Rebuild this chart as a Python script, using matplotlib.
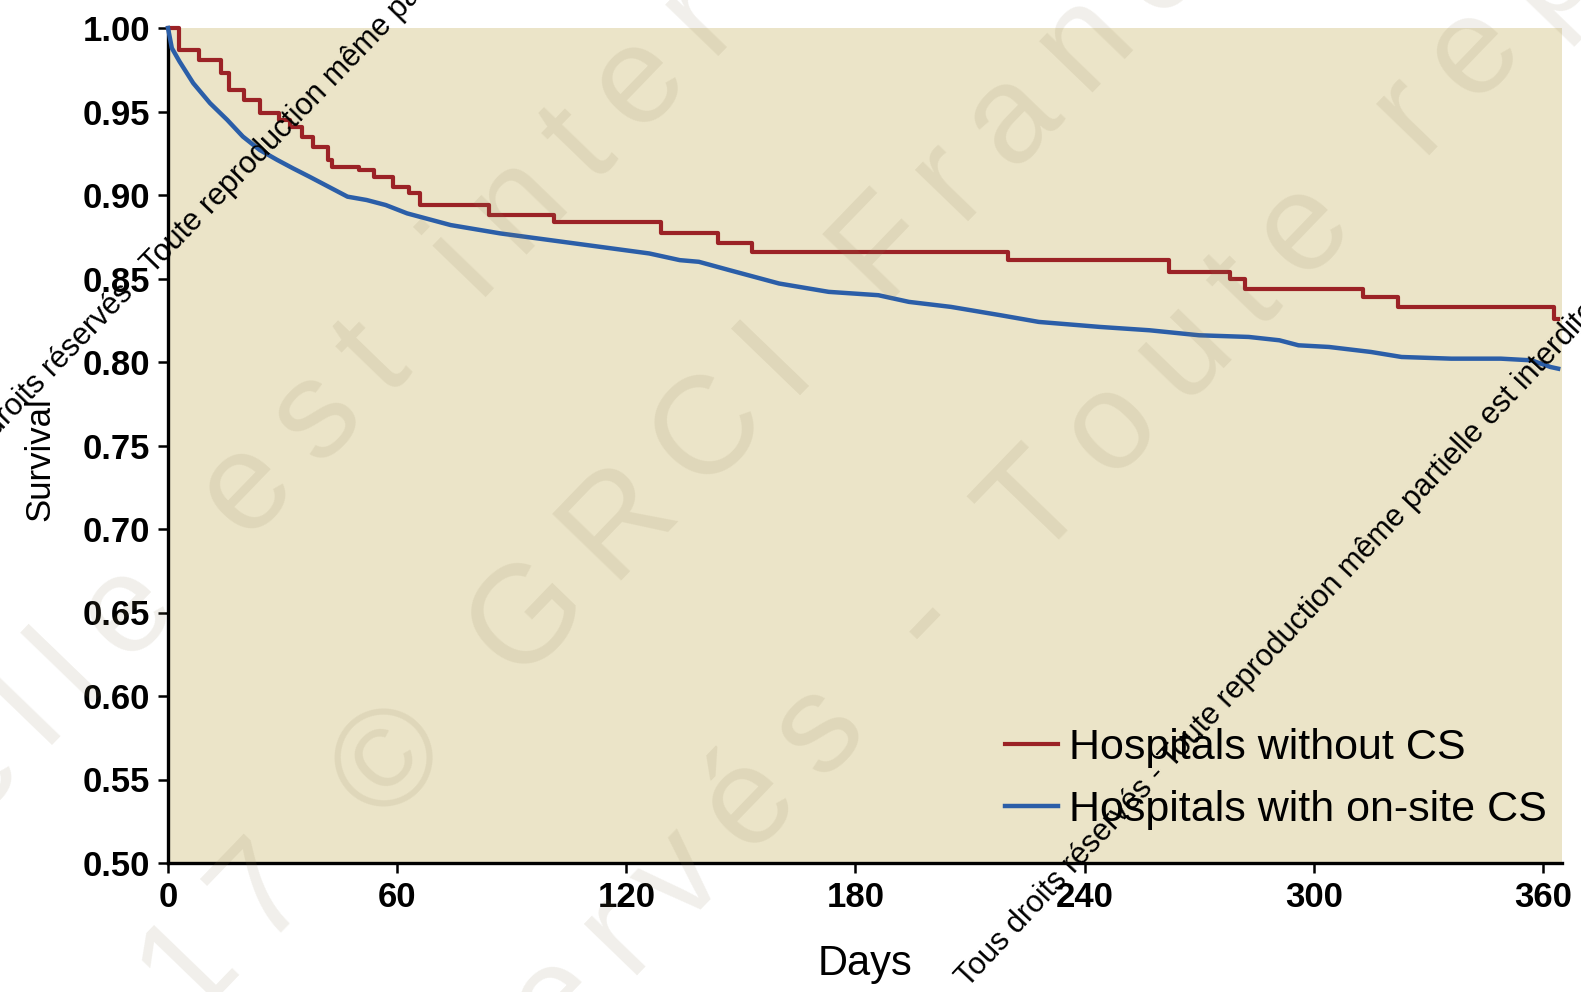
import matplotlib
matplotlib.use("Agg")
import matplotlib.pyplot as plt

# Courbes de survie
red_days = [0, 3, 8, 14, 16, 20, 24, 29, 32, 35, 38, 42, 43, 50, 54, 59, 63, 66,
            84, 101, 129, 144, 153, 220, 262, 278, 282, 313, 322, 363, 364]
red_surv = [1.000, 0.987, 0.981, 0.973, 0.963, 0.957, 0.949, 0.945, 0.941, 0.935,
            0.929, 0.921, 0.917, 0.915, 0.911, 0.905, 0.901, 0.894, 0.888, 0.884,
            0.877, 0.871, 0.866, 0.861, 0.854, 0.850, 0.844, 0.839, 0.833, 0.826, 0.826]

blue_days = [0, 1, 3, 6.6, 11, 15.5, 19.6, 24, 28.6, 32.7, 37, 42, 47, 52, 57, 62.6,
             74, 87, 100, 113, 126, 134, 139, 147, 160, 173, 186, 194, 205, 218, 228,
             244, 257, 270, 283, 291, 296, 304, 315, 323, 336, 349, 357, 362, 364]
blue_surv = [1.000, 0.988, 0.980, 0.967, 0.955, 0.945, 0.935, 0.927, 0.921, 0.916,
             0.911, 0.905, 0.899, 0.897, 0.894, 0.889, 0.882, 0.877, 0.873, 0.869,
             0.865, 0.861, 0.860, 0.855, 0.847, 0.842, 0.840, 0.836, 0.833, 0.828,
             0.824, 0.821, 0.819, 0.816, 0.815, 0.813, 0.810, 0.809, 0.806, 0.803,
             0.802, 0.802, 0.801, 0.797, 0.796]

labels = ['Hospitals without CS', 'Hospitals with on-site CS']
colors = ['#9b2226', '#2b5ea8']
x_ticks = [0, 60, 120, 180, 240, 300, 360]
y_ticks = [0.50, 0.55, 0.60, 0.65, 0.70, 0.75, 0.80, 0.85, 0.90, 0.95, 1.00]

W, H = 1581, 992
fig = plt.figure(figsize=(W / 100, H / 100), dpi=100)
ax = fig.add_axes([168 / W, 1 - 863 / H, (1562 - 168) / W, (863 - 28) / H])
ax.set_facecolor('#ebe4c8')

ax.plot(red_days, red_surv, drawstyle='steps-post', color=colors[0], lw=3,
        label=labels[0], clip_on=False, zorder=3)
ax.plot(blue_days, blue_surv, color=colors[1], lw=3.2, label=labels[1],
        clip_on=False, zorder=3)

ax.set_xlim(0, 365)
ax.set_ylim(0.5, 1.0)
ax.set_xticks(x_ticks)
ax.set_yticks(y_ticks)
ax.set_yticklabels(['%.2f' % v for v in y_ticks])

for lab in ax.get_xticklabels() + ax.get_yticklabels():
    lab.set_fontfamily('Liberation Sans')
    lab.set_fontweight('bold')
    lab.set_fontsize(25)
ax.tick_params(direction='out', length=7, width=1.8, color='black', pad=6)

for s in ['top', 'right']:
    ax.spines[s].set_visible(False)
for s in ['left', 'bottom']:
    ax.spines[s].set_linewidth(2.4)

ax.set_xlabel('Days', fontsize=30, family='Liberation Sans')
ax.set_ylabel('Survival', fontsize=25, family='Liberation Sans')
ax.xaxis.set_label_coords(0.5, -0.097)
ax.yaxis.set_label_coords(-0.080, 0.484)

ax.legend(loc='lower right', bbox_to_anchor=(1547 / W, 1 - 830 / H),
          bbox_transform=fig.transFigure, frameon=False, borderpad=0,
          borderaxespad=0, handlelength=1.25, handletextpad=0.25,
          labelspacing=0.5, prop=dict(family='Liberation Sans', size=31))


def fig_text(px, py, s, angle=46, **kw):
    fig.text(px / W, 1 - py / H, s, rotation=angle, rotation_mode='anchor',
             va='baseline', **kw)


def spaced(s):
    # filigrane : lettres espacées
    return '\u2009'.join(s)


# filigrane
wm = dict(fontsize=100, family=['Liberation Sans', 'DejaVu Sans'],
          color='#8c7d55', alpha=0.12, zorder=5)
fig_text(247, 544, spaced('Toute reproduction même partielle ') + '\u2009', ha='right', **wm)
fig_text(247, 544, spaced('est interdite'), ha='left', **wm)
fig_text(383, 827, spaced('2017 ') + '\u2009', ha='right', **wm)
fig_text(383, 827, spaced('© GRCI France - Tous droits réservés'), ha='left', **wm)
fig_text(1034, 565, spaced('Tous droits réservés - ') + '\u2009', ha='right', **wm)
fig_text(1034, 565, spaced('Toute reproduction'), ha='left', **wm)

small = dict(fontsize=22, family='Liberation Sans', color='black', zorder=6)
fig_text(211, 215, 'Tous droits réservés - Toute ', ha='right', **small)
fig_text(211, 215, 'reproduction même partielle est interdite', ha='left', **small)
fig_text(968, 988, 'Tous droits réservés - Toute reproduction même partielle est interdite',
         angle=47, ha='left', **small)

fig.savefig('out.png', dpi=100)
